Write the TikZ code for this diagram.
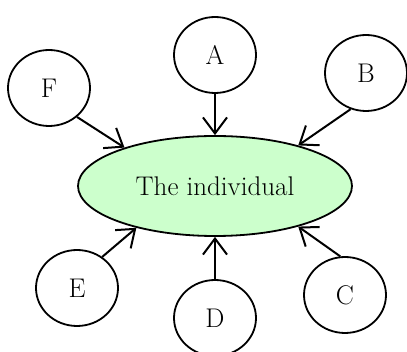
\documentclass[tikz,border=0pt]{standalone}
\usetikzlibrary{shapes.geometric,arrows.meta}
\definecolor{lightgreen}{HTML}{CCFFCC}
\begin{document}
\begin{tikzpicture}[x=1pt,y=-1pt,
  every node/.style={font=\fontsize{27}{31}\selectfont},
  small/.style={ellipse,draw,line width=1.8pt,minimum width=82pt,minimum height=76pt,inner sep=0pt},
  big/.style={ellipse,draw,line width=1.8pt,fill=lightgreen,minimum width=274pt,minimum height=100pt,inner sep=0pt},
  arr/.style={line width=2pt,-{Straight Barb[length=16pt,width=24pt,line width=2pt]}}]
\useasboundingbox (0,0) rectangle (407,352);
\node[big] (main) at (215,186) {The individual};
\node[small] (A) at (215,55) {A};
\node[small] (B) at (366,73) {B};
\node[small] (C) at (345,295) {C};
\node[small] (D) at (215,318) {D};
\node[small] (E) at (77,288) {E};
\node[small] (F) at (49,88) {F};
\draw[arr] (A.270) -- (main.90);
\draw[arr] (B.247) -- (main.26);
\draw[arr] (C.97) -- (main.-26);
\draw[arr] (D.90) -- (main.270);
\draw[arr] (E.51) -- (main.208);
\draw[arr] (F.-46) -- (main.157);
\end{tikzpicture}
\end{document}
